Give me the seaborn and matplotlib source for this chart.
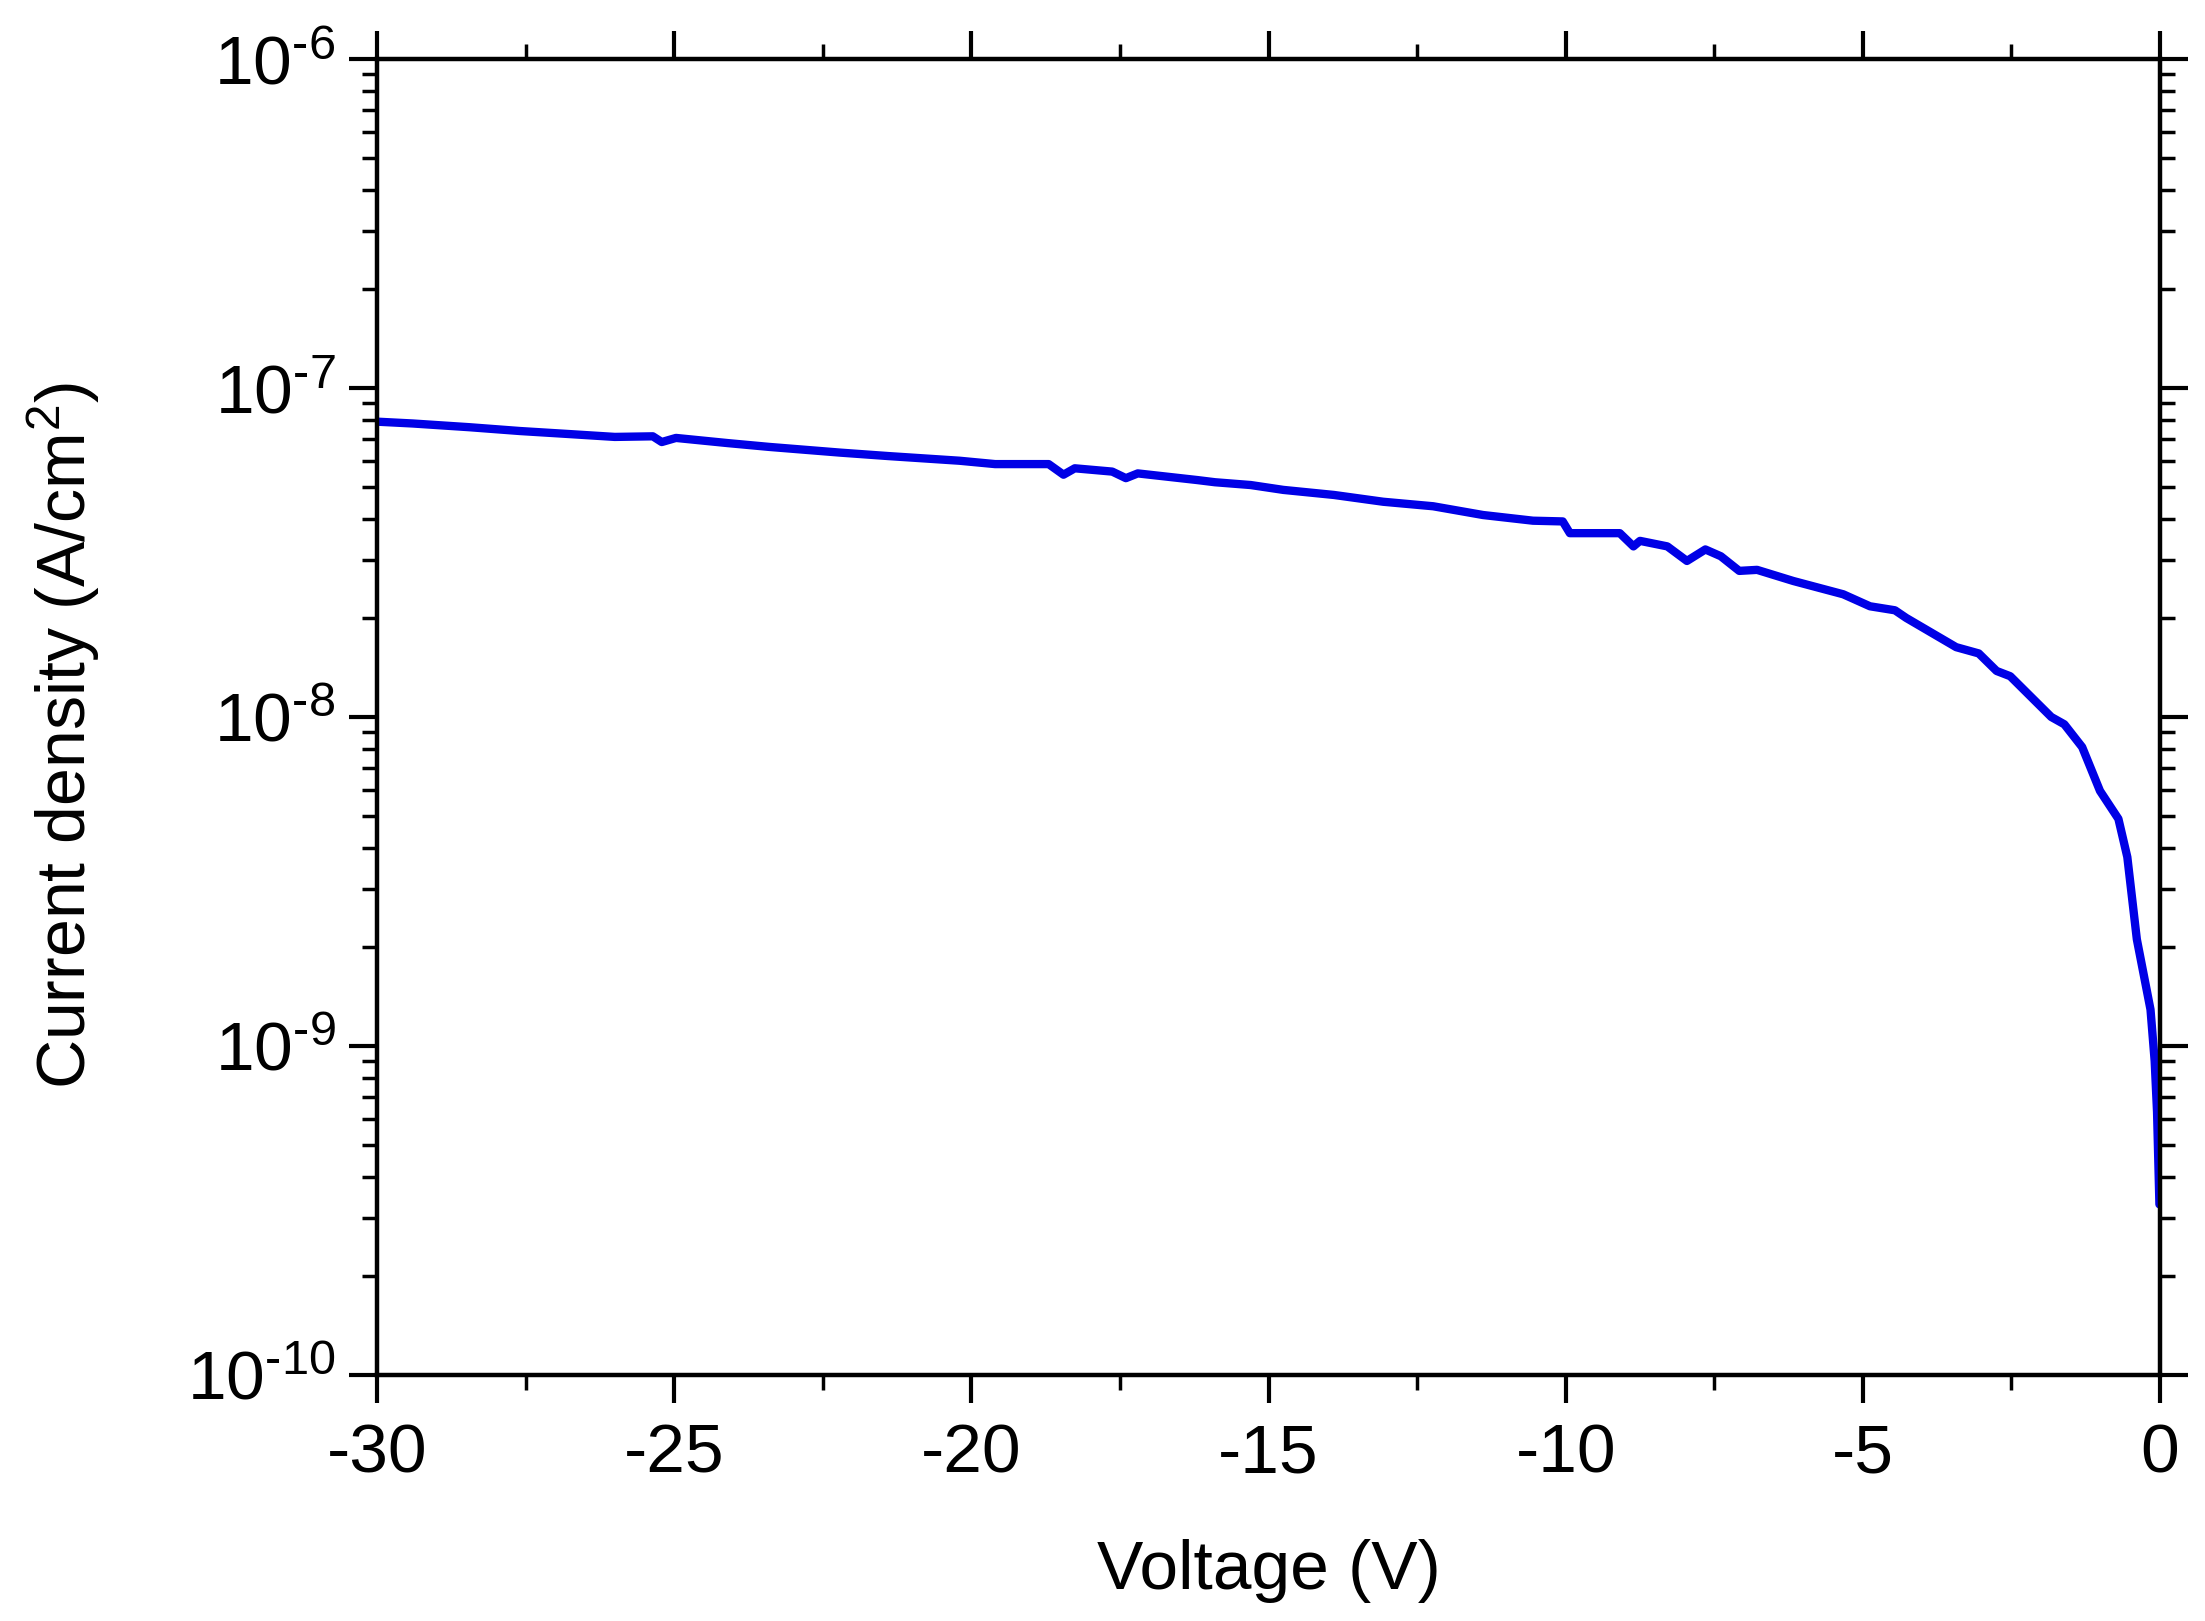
import matplotlib
matplotlib.use("Agg")
import matplotlib.pyplot as plt
import seaborn as sns
import numpy as np
import pandas as pd
from matplotlib.ticker import MultipleLocator, LogLocator, NullFormatter

# ---- data ----
voltage = [-30.0, -29.4, -28.45, -27.6, -26.8, -26.0, -25.36, -25.21, -24.97, -24.1,
           -23.4, -22.2, -21.4, -20.2, -19.6, -18.7, -18.45, -18.26, -17.63, -17.4,
           -17.2, -16.2, -15.9, -15.3, -14.75, -13.9, -13.07, -12.23, -11.39, -10.55,
           -10.05, -9.93, -9.09, -8.86, -8.75, -8.29, -7.96, -7.65, -7.39, -7.08,
           -6.78, -6.17, -5.33, -4.88, -4.46, -4.27, -3.43, -3.05, -2.75, -2.52,
           -1.83, -1.61, -1.31, -1.01, -0.70, -0.55, -0.39, -0.16, -0.09, -0.05, -0.01]
current = [7.9e-8, 7.8e-8, 7.6e-8, 7.4e-8, 7.25e-8, 7.1e-8, 7.13e-8, 6.85e-8, 7.05e-8, 6.8e-8,
           6.62e-8, 6.36e-8, 6.21e-8, 6.01e-8, 5.87e-8, 5.87e-8, 5.45e-8, 5.7e-8, 5.57e-8, 5.32e-8,
           5.5e-8, 5.25e-8, 5.17e-8, 5.07e-8, 4.9e-8, 4.73e-8, 4.51e-8, 4.37e-8, 4.11e-8, 3.95e-8,
           3.93e-8, 3.62e-8, 3.62e-8, 3.3e-8, 3.43e-8, 3.3e-8, 2.98e-8, 3.23e-8, 3.08e-8, 2.78e-8,
           2.8e-8, 2.59e-8, 2.36e-8, 2.17e-8, 2.11e-8, 2.0e-8, 1.63e-8, 1.56e-8, 1.38e-8, 1.33e-8,
           1.0e-8, 9.5e-9, 8.1e-9, 5.96e-9, 4.9e-9, 3.75e-9, 2.11e-9, 1.29e-9, 9.0e-10, 6.3e-10, 3.3e-10]

x_ticks = [-30, -25, -20, -15, -10, -5, 0]
x_tick_labels = ["-30", "-25", "-20", "-15", "-10", "-5", "0"]
y_ticks = [1e-10, 1e-9, 1e-8, 1e-7, 1e-6]
y_tick_labels = [r"$10^{\text{-10}}$", r"$10^{\text{-9}}$", r"$10^{\text{-8}}$",
                 r"$10^{\text{-7}}$", r"$10^{\text{-6}}$"]

df = pd.DataFrame({"Voltage": voltage, "Current": current})

sns.set_theme(style="ticks")
plt.rcParams["font.family"] = ["Liberation Sans", "DejaVu Sans"]
plt.rcParams["mathtext.fontset"] = "custom"
plt.rcParams["mathtext.rm"] = "Liberation Sans"
plt.rcParams["mathtext.it"] = "Liberation Sans"
plt.rcParams["mathtext.default"] = "regular"
plt.rcParams["axes.unicode_minus"] = False
for key in ["text.color", "axes.labelcolor", "xtick.color", "ytick.color",
            "axes.edgecolor", "xtick.labelcolor", "ytick.labelcolor"]:
    plt.rcParams[key] = "black"

fig = plt.figure(figsize=(22.05, 16.21), dpi=100)
fig.patch.set_facecolor("white")
ax = fig.add_axes([0.1710, 0.1518, 0.8086, 0.8118])
ax.set_facecolor("white")
ax.set_yscale("log")

sns.lineplot(data=df, x="Voltage", y="Current", ax=ax, color="#0000e6",
             linewidth=6, sort=False, estimator=None)

ax.set_xlim(-30, 0)
ax.set_ylim(1e-10, 1e-6)

ax.set_xticks(x_ticks)
ax.set_xticklabels(x_tick_labels)
ax.xaxis.set_minor_locator(MultipleLocator(2.5))
ax.set_yticks(y_ticks)
ax.set_yticklabels(y_tick_labels)
ax.yaxis.set_minor_locator(LogLocator(base=10, subs=np.arange(2, 10), numticks=20))
ax.yaxis.set_minor_formatter(NullFormatter())

for s in ax.spines.values():
    s.set_visible(True)
    s.set_linewidth(3.2)
    s.set_color("black")

ax.tick_params(which="both", direction="out", top=True, right=True,
               bottom=True, left=True, color="black", labelcolor="black")
ax.tick_params(which="major", length=20, width=3, labelsize=50, pad=14)
ax.tick_params(which="minor", length=11, width=2.5)
ax.tick_params(axis="y", which="major", pad=10)

ax.set_xlabel("Voltage (V)", fontsize=50, color="black")
ax.set_ylabel("Current density (A/cm$^2$)", fontsize=49, color="black")
ax.xaxis.set_label_coords(0.5, -0.125)
ax.yaxis.set_label_coords(-0.154, 0.486)
ax.grid(False)

fig.savefig("out.png", dpi=100, facecolor="white")
